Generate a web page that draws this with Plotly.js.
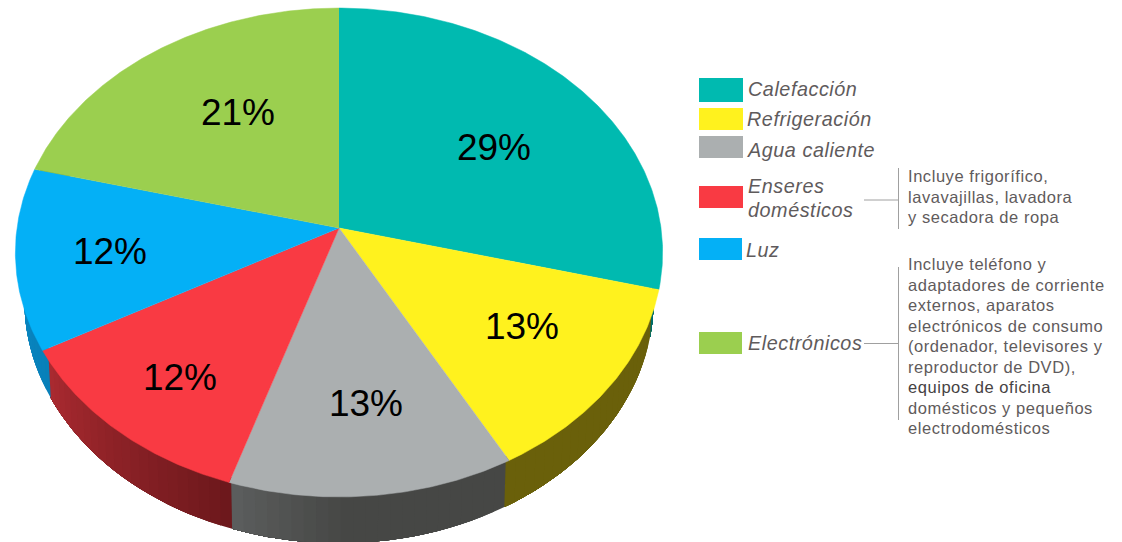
<!DOCTYPE html>
<html><head><meta charset="utf-8">
<script src="https://cdn.plot.ly/plotly-3.0.1.min.js"></script>
<style>
html,body{margin:0;padding:0;background:#fff;overflow:hidden}
#chart{width:1122px;height:542px}
.annotation-text{letter-spacing:0.55px}
</style></head><body><div id="chart"></div>
<script>
// Data
const categories = ['Calefacción','Refrigeración','Agua caliente','Enseres domésticos','Luz','Electrónicos'];
const shares = [29,13,13,12,12,21];
const noteAppliances = ['Incluye frigorífico,','lavavajillas, lavadora','y secadora de ropa'];
const noteElectronics = ['Incluye teléfono y','adaptadores de corriente','externos, aparatos','electrónicos de consumo','(ordenador, televisores y','reproductor de DVD),','equipos de oficina','domésticos y pequeños','electrodomésticos'];

// Styles
const faceColors = ['#00BAB0','#FFF21E','#ABAFB0','#F93A43','#04B0F6','#9BCF4F'];
const wallStart = [[0,110,105],[106,96,10],[70,71,69],[108,24,28],[8,128,185],[90,120,45]];
const wallEnd   = [[0,110,105],[106,96,10],[92,94,94],[170,42,48],[10,140,200],[90,120,45]];
const wallHold  = [0,0,0.6,0,0,0]; // share of each wall that keeps its start colour

// Perspective disc: rim point of a share position
const top3d = {cx:339, cy:228, a:322, b:242};
const topInset = {cx:339, cy:228, a:316, b:237}; // wall's upper edge, hidden just under the top face
const bot3d = {cx:339, cy:276.5, a:313, b:240};
const persp = 0.1002;
function rim(g, t){
  const th = 2*Math.PI*t, u = Math.sin(th), v = -Math.cos(th), d = 1 - persp*v;
  return [g.cx + g.a*u/d, g.cy + g.b*v/d];
}
const total = shares.reduce((s,v)=>s+v,0);
const labelXY = [[494,151],[522,330],[366,407],[180,381],[110,255],[238,116]];
const traces = [];
let acc = 0;
const spans = shares.map(v=>{const s=[acc/total,(acc+v)/total];acc+=v;return s;});

// Side walls: each strip runs to the end of its slice and is painted over by the next, so no seams show
function arc(g,a,b,n){const o=[];for(let k=0;k<=n;k++)o.push(rim(g,a+(b-a)*k/n));return o;}
spans.forEach((sp,i)=>{
  const n = Math.max(4, Math.round((sp[1]-sp[0])*180));
  for(let k=0;k<n;k++){
    const t0 = sp[0]+(sp[1]-sp[0])*k/n, raw=(k+.5)/n, h=wallHold[i];
    const f = raw<h?0:(raw-h)/(1-h);
    const c = wallStart[i].map((s,j)=>Math.round(s+(wallEnd[i][j]-s)*f));
    const col = `rgb(${c[0]},${c[1]},${c[2]})`;
    const m = Math.max(2,n-k);
    const p = arc(topInset,t0,sp[1],m).concat(arc(bot3d,sp[1],t0,m));
    traces.push({type:'scatter',mode:'none',x:p.map(q=>q[0]),y:p.map(q=>q[1]),fill:'toself',fillcolor:col,
      hoverinfo:'skip',showlegend:false});
  }
});
// Top faces
spans.forEach((sp,i)=>{
  const n = Math.round((sp[1]-sp[0])*720), xs=[top3d.cx], ys=[top3d.cy];
  for(let k=0;k<=n;k++){const q=rim(top3d,sp[0]+(sp[1]-sp[0])*k/n);xs.push(q[0]);ys.push(q[1]);}
  traces.push({type:'scatter',mode:'lines',x:xs,y:ys,fill:'toself',fillcolor:faceColors[i],
    line:{color:faceColors[i],width:0.5},name:categories[i],hoverinfo:'name',showlegend:false});
});
// Percent labels
traces.push({type:'scatter',mode:'text',x:labelXY.map(p=>p[0]),y:labelXY.map(p=>p[1]),
  text:shares.map(v=>v+'%'),textposition:'middle center',
  textfont:{family:'Liberation Sans, Arial, sans-serif',size:37,color:'#000'},hoverinfo:'skip',showlegend:false});

// Legend and notes
const swatches = [[699,743,78,102],[699,743,108,130],[699,743,136,158],[699,743,186,208],[699,742,238,260],[699,742,332,354]];
const legendLines = [['Calefacción',747,89],['Refrigeración',746,119],['Agua caliente',746,150],['Enseres',747,186],['domésticos',747,210],['Luz',745,250],['Electrónicos',747,343]];
const shapes = swatches.map((r,i)=>({type:'rect',xref:'x',yref:'y',x0:r[0],x1:r[1],y0:r[2],y1:r[3],fillcolor:faceColors[i],line:{width:0}}));
[[864,898.5,200,200],[898.5,898.5,168,229],[864,898.5,343.5,343.5],[898.5,898.5,267,420]].forEach(l=>
  shapes.push({type:'line',xref:'x',yref:'y',x0:l[0],x1:l[1],y0:l[2],y1:l[3],line:{color:'#A0A0A0',width:1}}));
const annotations = [];
const ann = (text,x,y,size,color)=>annotations.push({text,x,y,xref:'x',yref:'y',xanchor:'left',yanchor:'middle',showarrow:false,borderpad:0,
  font:{family:'Liberation Sans, Arial, sans-serif',size,color}});
legendLines.forEach(l=>ann('<i>'+l[0]+'</i>',l[1],l[2],19.8,'#5F5B5C'));
noteAppliances.forEach((t,i)=>ann(t,907,176+i*20.5,16.5,'#5F5B5C'));
noteElectronics.forEach((t,i)=>ann(t,907,264+i*20.5,16.5,t==='equipos de oficina'?'#464243':'#5F5B5C'));

Plotly.newPlot('chart',traces,{
  width:1122,height:542,margin:{l:0,r:0,t:0,b:0},paper_bgcolor:'#fff',plot_bgcolor:'#fff',showlegend:false,
  xaxis:{range:[0,1122],visible:false,fixedrange:true},
  yaxis:{range:[542,0],visible:false,fixedrange:true},
  shapes,annotations
},{displayModeBar:false,staticPlot:true});
</script></body></html>
